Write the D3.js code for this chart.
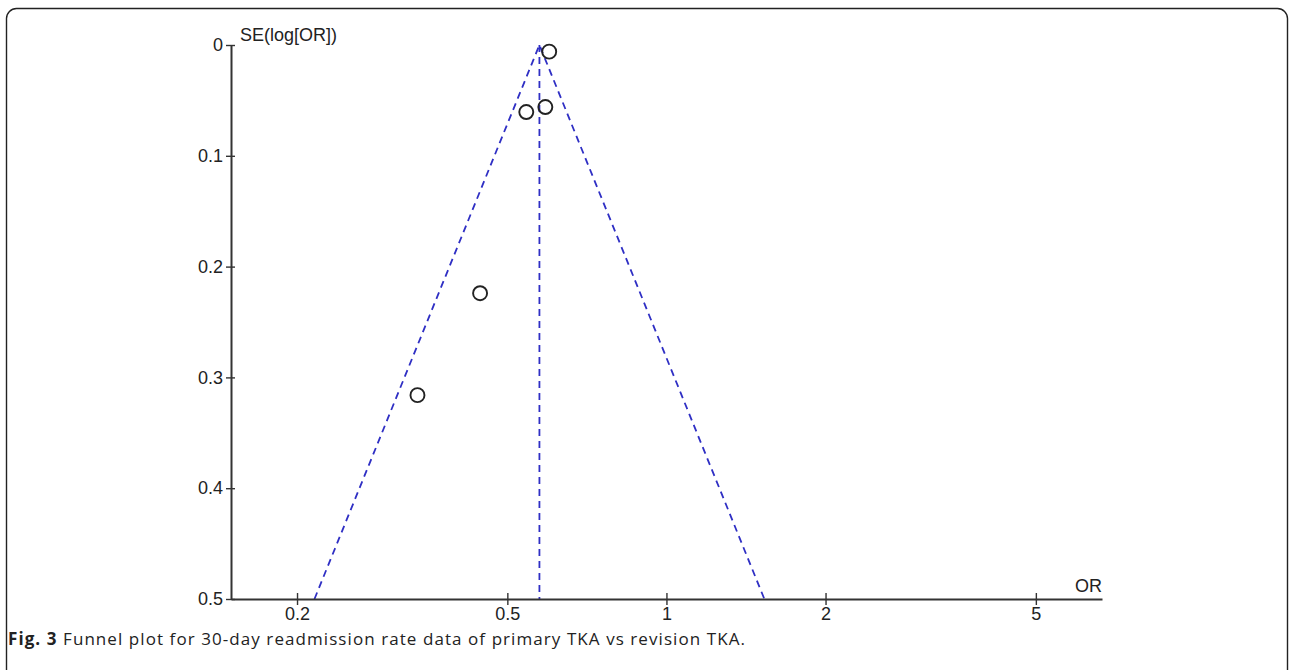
<!DOCTYPE html>
<html><head><meta charset="utf-8">
<script src="https://cdn.jsdelivr.net/npm/d3@7"></script>
<style>html,body{margin:0;padding:0;background:#fff;}svg{display:block;}</style>
</head><body>
<svg id="c" width="1290" height="670"></svg>
<script>
// Data
const studyOR = [0.600, 0.590, 0.543, 0.444, 0.338];
const studySE = [0.006, 0.056, 0.0605, 0.224, 0.316];
const pooledOR = [0.575];
const xTicks = [0.2, 0.5, 1, 2, 5];
const yTicks = [0, 0.1, 0.2, 0.3, 0.4, 0.5];
const xDomain = [0.15, 6.67];
const yDomain = [0, 0.5];

(function () {
const svg = d3.select("#c");
const font = "'Liberation Sans', Arial, sans-serif";
const fs = 18;

// frame
svg.append("rect").attr("x", 6.5).attr("y", 8.5).attr("width", 1281).attr("height", 680)
  .attr("rx", 10).attr("fill", "none").attr("stroke", "#222").attr("stroke-width", 1.4);

const pL = 231, pR = 1102, pT = 45, pB = 599;
const x = d3.scaleLog().domain(xDomain).range([pL, pR]);
const y = d3.scaleLinear().domain(yDomain).range([pT, pB]);

const axisColor = "#333";
const blue = "#2f2fc4";

// funnel
const p = pooledOR[0];
const lp = Math.log(p);
const seMax = yDomain[1];
const funnel = [
  [Math.exp(lp - 1.96 * seMax), seMax],
  [p, 0],
  [Math.exp(lp + 1.96 * seMax), seMax]
];
const line = d3.line().x(d => x(d[0])).y(d => y(d[1]));
svg.append("path").attr("d", line(funnel)).attr("fill", "none")
  .attr("stroke", blue).attr("stroke-width", 1.8).attr("stroke-dasharray", "7,5");
svg.append("path").attr("d", line([[p, 0], [p, seMax]])).attr("fill", "none")
  .attr("stroke", blue).attr("stroke-width", 1.8).attr("stroke-dasharray", "7,5");

// axes
const yAxis = d3.axisLeft(y).tickValues(yTicks).tickFormat(d => String(+d.toFixed(1)))
  .tickSizeInner(4).tickSizeOuter(0).tickPadding(6);
const gy = svg.append("g").attr("transform", `translate(${pL},0)`).call(yAxis);
gy.select(".domain").attr("stroke", axisColor).attr("stroke-width", 2);
gy.selectAll(".tick line").attr("stroke", axisColor).attr("stroke-width", 1.4).attr("x2", 4).attr("x1", -5);
gy.selectAll(".tick text").attr("font-family", font).attr("font-size", fs).attr("fill", "#222")
  .attr("x", -8);

const xAxis = d3.axisBottom(x).tickValues(xTicks).tickFormat(d => String(d))
  .tickSizeInner(6).tickSizeOuter(0).tickPadding(2);
const gx = svg.append("g").attr("transform", `translate(0,${pB})`).call(xAxis);
gx.select(".domain").attr("stroke", axisColor).attr("stroke-width", 2.2);
gx.selectAll(".tick line").attr("stroke", axisColor).attr("stroke-width", 1.4).attr("y1", -6).attr("y2", 6);
gx.selectAll(".tick text").attr("font-family", font).attr("font-size", fs).attr("fill", "#222");

// axis titles
svg.append("text").attr("x", 240).attr("y", 41).attr("font-family", font).attr("font-size", fs)
  .attr("fill", "#222").text("SE(log[OR])");
svg.append("text").attr("x", pR).attr("y", 592).attr("text-anchor", "end").attr("font-family", font)
  .attr("font-size", fs).attr("fill", "#222").text("OR");

// points
svg.append("g").selectAll("circle").data(studyOR.map((o, i) => [o, studySE[i]])).join("circle")
  .attr("cx", d => x(d[0])).attr("cy", d => y(d[1])).attr("r", 7)
  .attr("fill", "none").attr("stroke", "#222").attr("stroke-width", 1.9);

// caption
const cap = svg.append("text").attr("x", 8).attr("y", 645).attr("font-family", "'Open Sans', 'Noto Sans', sans-serif")
  .attr("font-size", 17).attr("fill", "#222");
cap.append("tspan").attr("font-weight", "bold").text("Fig. 3");
cap.append("tspan").text(" Funnel plot for 30-day readmission rate data of primary TKA vs revision TKA.");
const w = cap.node().getComputedTextLength();
const n = cap.text().length;
cap.attr("letter-spacing", ((746 - 8) - w) / n);
})();
</script>
</body></html>
